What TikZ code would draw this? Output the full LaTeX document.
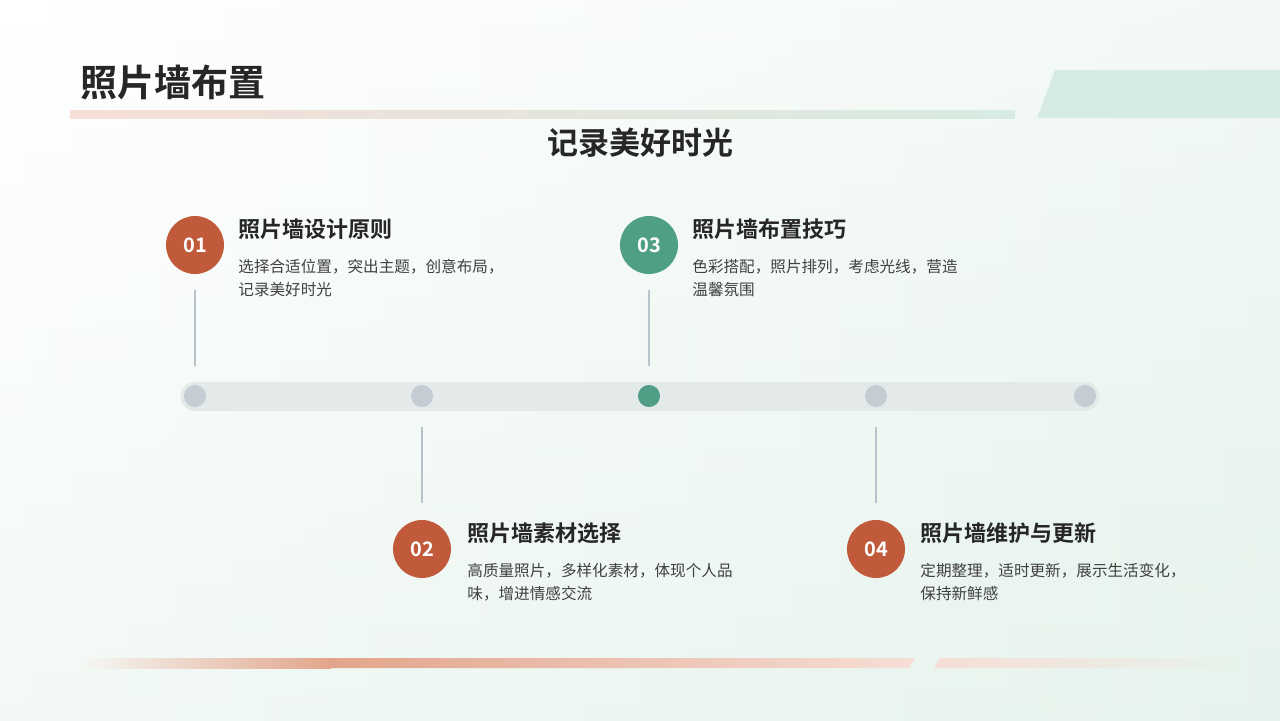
\documentclass[tikz,border=0pt]{standalone}
\usepackage{fontspec}
\setmainfont{Noto Sans CJK SC}
\newfontfamily\cjkbold{Noto Sans CJK SC Bold}
\definecolor{rust}{HTML}{C05A3A}
\definecolor{jade}{HTML}{4E9F85}
\definecolor{dotgray}{HTML}{C5CCD3}
\definecolor{bargray}{HTML}{E4E9E9}
\definecolor{stemgray}{HTML}{B8C4CC}
\definecolor{inkdark}{HTML}{262626}
\definecolor{inkbody}{HTML}{404040}
\definecolor{mint}{HTML}{D6ECE2}
\definecolor{peach}{HTML}{F6DED6}
\definecolor{salmon}{HTML}{E2A58C}
\definecolor{bgmint}{HTML}{E6F3EC}
\tikzset{
  numdot/.style={circle, minimum size=29pt, inner sep=0pt, text=white, font=\cjkbold\fontsize{10}{12}\selectfont},
  heading/.style={anchor=west, inner sep=0pt, text=inkdark, font=\cjkbold\fontsize{11}{13}\selectfont},
  bodytext/.style={anchor=north west, inner sep=0pt, text=inkbody, align=left, font=\fontsize{7.8}{11.5}\selectfont},
  stem/.style={draw=stemgray, line width=0.6pt},
  tick/.style={circle, minimum size=11pt, inner sep=0pt, fill=dotgray}
}
\begin{document}
\begin{tikzpicture}[x=0.5pt,y=-0.5pt]
  \useasboundingbox (0,0) rectangle (1280,720);
  % background
  \shade[top color=white, bottom color=bgmint] (0,0) rectangle (1280,720);
  \shade[left color=white, right color=bgmint, opacity=0.5] (0,0) rectangle (1280,720);
  % header bars
  \shade[left color=peach, right color=mint] (70,110) rectangle (1015,118);
  \fill[mint] (1055,70) -- (1280,70) -- (1280,118) -- (1037,118) -- cycle;
  % bottom bars
  \shade[left color=bgmint!40!white, right color=salmon] (75,658) -- (331,658) -- (331,668) -- (75,668) -- cycle;
  \shade[left color=salmon, right color=peach] (330,658) -- (915,658) -- (909,668) -- (330,668) -- cycle;
  \shade[left color=peach, right color=bgmint] (940,658) -- (1240,658) -- (1240,668) -- (934,668) -- cycle;
  % titles
  \node[anchor=west, inner sep=0pt, text=inkdark, font=\cjkbold\fontsize{18.5}{22}\selectfont] (title) at (80,82) {照片墙布置};
  \node[inner sep=0pt, text=inkdark, font=\cjkbold\fontsize{15.5}{18}\selectfont] (subtitle) at (640,143) {记录美好时光};
  % timeline
  \fill[bargray] (195,382) rectangle (1085,411);
  \fill[bargray] (195,396.5) circle (14.5);
  \fill[bargray] (1085,396.5) circle (14.5);
  \foreach \x/\n in {195/t1,422/t2,649/t3,876/t4,1085/t5}
    \node[tick] (\n) at (\x,396) {};
  \node[tick, fill=jade] at (t3) {};
  % steps
  \foreach \n/\x/\y/\c/\ya/\yb in {01/195/245/rust/290/366, 03/649/245/jade/290/366,
                                   02/422/549/rust/427/503, 04/876/549/rust/427/503}{
    \node[numdot, fill=\c] (n\n) at (\x,\y) {\n};
    \draw[stem] (\x,\ya) -- (\x,\yb);
  }
  \node[heading] (h1) at (238,229) {照片墙设计原则};
  \node[bodytext] (b1) at (238,259) {选择合适位置，突出主题，创意布局，\\记录美好时光};
  \node[heading] (h3) at (692,229) {照片墙布置技巧};
  \node[bodytext] (b3) at (692,259) {色彩搭配，照片排列，考虑光线，营造\\温馨氛围};
  \node[heading] (h2) at (467,533) {照片墙素材选择};
  \node[bodytext] (b2) at (467,563) {高质量照片，多样化素材，体现个人品\\味，增进情感交流};
  \node[heading] (h4) at (920,533) {照片墙维护与更新};
  \node[bodytext] (b4) at (920,563) {定期整理，适时更新，展示生活变化，\\保持新鲜感};
\end{tikzpicture}
\end{document}
